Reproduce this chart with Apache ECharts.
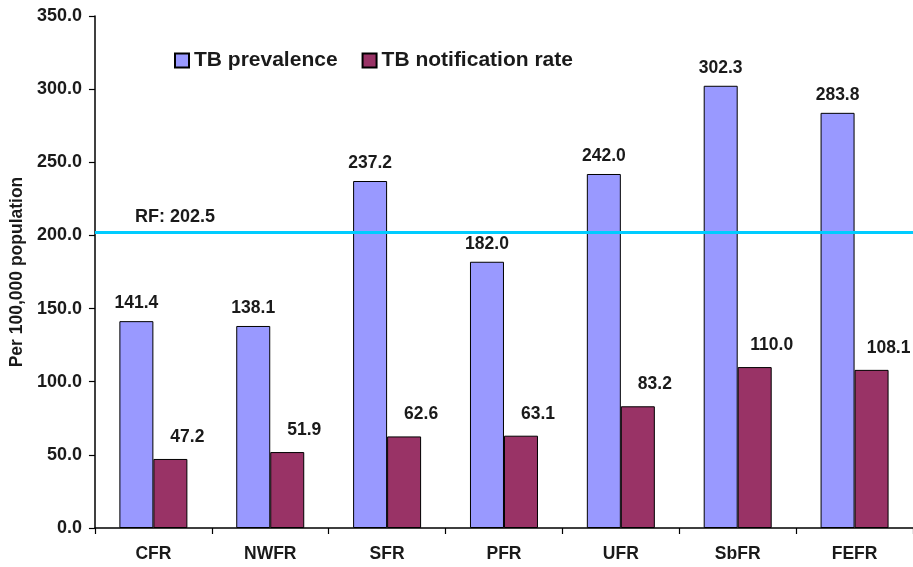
<!DOCTYPE html>
<html>
<head>
<meta charset="utf-8">
<script src="https://cdn.jsdelivr.net/npm/echarts@6/dist/echarts.min.js"></script>
<style>
html,body{margin:0;padding:0;background:#fff;}
#chart{width:913px;height:567px;}
</style>
</head>
<body>
<div id="chart"></div>
<script>
const categories = ['CFR', 'NWFR', 'SFR', 'PFR', 'UFR', 'SbFR', 'FEFR'];
const prevalence = [141.4, 138.1, 237.2, 182.0, 242.0, 302.3, 283.8];
const notification = [47.2, 51.9, 62.6, 63.1, 83.2, 110.0, 108.1];
const seriesNames = ['TB prevalence', 'TB notification rate'];
const referenceName = 'RF';
const referenceValue = 202.5;
const yTicks = { min: 0, max: 350, interval: 50 };
const yAxisName = 'Per 100,000 population';

const FONT = 'Arial, "Liberation Sans", sans-serif';
const TXT = '#1a1a1a';

const chart = echarts.init(document.getElementById('chart'), null, { renderer: 'canvas' });
chart.setOption({
  animation: false,
  backgroundColor: '#ffffff',
  grid: { left: 92, top: 16, width: 823, height: 512, containLabel: false },
  legend: {
    data: seriesNames,
    left: 169,
    top: 45,
    itemWidth: 14,
    itemHeight: 14,
    itemGap: 24,
    icon: 'rect',
    textStyle: { fontFamily: FONT, fontSize: 21, fontWeight: 'bold', color: TXT }
  },
  xAxis: {
    type: 'category',
    data: categories,
    axisLine: { lineStyle: { color: '#000', width: 1.5 } },
    axisTick: { show: true, length: 6, lineStyle: { color: '#000', width: 1.2 } },
    axisLabel: { margin: 17, fontFamily: FONT, fontSize: 17.5, fontWeight: 'bold', color: TXT },
    splitLine: { show: false }
  },
  yAxis: {
    type: 'value',
    min: yTicks.min,
    max: yTicks.max,
    interval: yTicks.interval,
    name: yAxisName,
    nameLocation: 'middle',
    nameGap: 64,
    nameRotate: 90,
    nameTextStyle: { fontFamily: FONT, fontSize: 17.5, fontWeight: 'bold', color: TXT },
    axisLine: { show: true, lineStyle: { color: '#000', width: 1.5 } },
    axisTick: { show: true, length: 6, lineStyle: { color: '#000', width: 1.2 } },
    axisLabel: {
      margin: 13,
      fontFamily: FONT, fontSize: 18, fontWeight: 'bold', color: TXT,
      formatter: v => v.toFixed(1)
    },
    splitLine: { show: false }
  },
  series: [
    {
      name: seriesNames[0],
      type: 'bar',
      data: prevalence,
      barWidth: 34,
      barGap: '0%',
      itemStyle: { color: '#9999FF', borderColor: '#000', borderWidth: 1 },
      label: {
        show: true, position: 'top', distance: 9,
        fontFamily: FONT, fontSize: 17.5, fontWeight: 'bold', color: TXT,
        formatter: p => p.value.toFixed(1)
      },
      markLine: {
        symbol: 'none',
        silent: true,
        lineStyle: { color: '#00CCFF', width: 3, type: 'solid' },
        label: {
          show: true,
          position: 'insideStartTop',
          distance: [40, 6],
          fontFamily: FONT, fontSize: 18, fontWeight: 'bold', color: TXT,
          formatter: p => referenceName + ': ' + p.value.toFixed(1)
        },
        data: [{ yAxis: referenceValue }]
      }
    },
    {
      name: seriesNames[1],
      type: 'bar',
      data: notification,
      barWidth: 34,
      barGap: '0%',
      itemStyle: { color: '#993366', borderColor: '#000', borderWidth: 1 },
      label: {
        show: true, position: 'top', distance: 13, offset: [17, 0],
        fontFamily: FONT, fontSize: 17.5, fontWeight: 'bold', color: TXT,
        formatter: p => p.value.toFixed(1)
      }
    }
  ]
});
</script>
</body>
</html>
